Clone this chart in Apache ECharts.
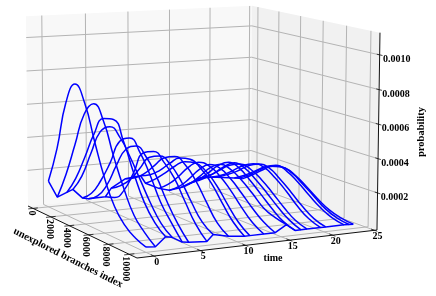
<!DOCTYPE html>
<html><head><meta charset="utf-8">
<style>html,body{margin:0;padding:0;background:#fff}#c{width:436px;height:296px}</style>
<script src="https://cdn.jsdelivr.net/npm/echarts@6/dist/echarts.min.js"></script>
</head><body><div id="c"></div>
<script>
// ---- data ----
const timeTicks = [0, 5, 10, 15, 20, 25];
const indexTicks = [0, 2000, 4000, 6000, 8000, 10000];
const probTicks = [0.0002, 0.0004, 0.0006, 0.0008, 0.0010];
const probLabels = ['0.0002', '0.0004', '0.0006', '0.0008', '0.0010'];
const indexSamples = [0, 1000, 2000, 3000, 4000, 5000, 6000, 7000, 8000, 9000, 10000];
const curveTimes = [0, 1, 2.1, 2.8, 3.9, 4.6, 6.6, 7.3, 9, 10.8, 11.4, 13, 14.3, 15.6, 16.6, 17.3, 18, 19.6, 20.2, 22.4, 23, 23.5];
// probability in units of 1e-6, one row per time, one column per indexSamples entry
const curve00 = [140, 360, 650, 780, 690, 490, 300, 160, 80, 35, 12];
const curve01 = [37, 200, 400, 600, 680, 600, 420, 260, 130, 60, 8];
const curve02 = [60, 170, 320, 480, 590, 605, 500, 340, 200, 110, 57];
const curve03 = [75, 180, 340, 490, 540, 500, 410, 300, 190, 100, 50];
const curve04 = [17, 70, 170, 300, 450, 490, 430, 320, 190, 100, 17];
const curve05 = [8, 50, 140, 280, 400, 440, 400, 310, 190, 90, 12];
const curve06 = [10, 30, 100, 230, 370, 400, 360, 290, 180, 75, 5];
const curve07 = [60, 100, 160, 250, 340, 370, 345, 275, 175, 85, 40];
const curve08 = [110, 140, 190, 260, 330, 360, 335, 265, 165, 70, 20];
const curve09 = [120, 150, 200, 265, 320, 335, 305, 240, 150, 65, 10];
const curve10 = [70, 120, 180, 245, 295, 310, 285, 225, 140, 60, 10];
const curve11 = [30, 80, 150, 230, 285, 285, 250, 190, 115, 50, 10];
const curve12 = [12, 60, 130, 210, 265, 265, 225, 165, 100, 45, 10];
const curve13 = [20, 70, 140, 215, 260, 250, 210, 155, 95, 65, 50];
const curve14 = [40, 90, 155, 225, 268, 255, 205, 145, 85, 35, 10];
const curve15 = [50, 95, 150, 215, 262, 250, 205, 150, 90, 40, 10];
const curve16 = [70, 110, 165, 220, 250, 240, 200, 145, 85, 35, 10];
const curve17 = [70, 105, 155, 210, 245, 245, 205, 150, 85, 35, 10];
const curve18 = [65, 105, 150, 205, 240, 240, 195, 140, 80, 33, 10];
const curve19 = [50, 90, 140, 190, 222, 208, 165, 110, 60, 25, 10];
const curve20 = [45, 90, 145, 190, 210, 195, 150, 100, 50, 20, 9];
const curve21 = [40, 90, 145, 190, 200, 175, 130, 80, 40, 18, 8];
const curves = [curve00, curve01, curve02, curve03, curve04, curve05, curve06, curve07, curve08, curve09, curve10,
  curve11, curve12, curve13, curve14, curve15, curve16, curve17, curve18, curve19, curve20, curve21];

// ---- axis limits and camera ----
const tLim = [-1.78, 25.3], iLim = [-581, 10723], pLim = [-0.0000174, 0.001127];
const cam = { a: 239.6, b: 94.53, c: 28, p: -2.36, d: -9.82, e: 24.76, f: 206, q: -190, g: 0.0662, h: -0.1056, i: -0.0138 };
function proj(u, v, w) {
  const n = cam.g * u + cam.h * v + cam.i * w + 1;
  return [(cam.a * u + cam.b * v + cam.p * w + cam.c) / n, (cam.d * u + cam.e * v + cam.q * w + cam.f) / n];
}
const U = t => (t - tLim[0]) / (tLim[1] - tLim[0]);
const V = i => (i - iLim[0]) / (iLim[1] - iLim[0]);
const W = p => (p - pLim[0]) / (pLim[1] - pLim[0]);
const P = (t, i, p) => proj(U(t), V(i), W(p));

const GRID = '#b4b4b4', BLUE = '#0000ff', INK = '#111';
const FONT = '"Liberation Serif","Times New Roman",serif';

// ---- panes ----
const panes = [
  { fill: '#f8f8f8', pts: [[0, 0, 0], [1, 0, 0], [1, 0, 1], [0, 0, 1]] },
  { fill: '#f1f1f1', pts: [[1, 0, 0], [1, 1, 0], [1, 1, 1], [1, 0, 1]] },
  { fill: '#f4f4f4', pts: [[0, 0, 0], [1, 0, 0], [1, 1, 0], [0, 1, 0]] }
];
const paneSeries = {
  type: 'custom', coordinateSystem: 'cartesian2d', silent: true, z: 1, clip: false,
  data: panes.map((_, k) => [k]),
  renderItem(params, api) {
    const pn = panes[api.value(0)];
    return { type: 'polygon', shape: { points: pn.pts.map(q => api.coord(proj(q[0], q[1], q[2]))) }, style: { fill: pn.fill } };
  }
};

// ---- straight helper lines ----
function seg(points, color, width, z) {
  return { type: 'line', data: points, showSymbol: false, symbol: 'none', silent: true, clip: false, z: z,
    lineStyle: { color: color, width: width }, animation: false };
}
const series = [paneSeries];
timeTicks.forEach(t => {
  const u = U(t);
  series.push(seg([proj(u, 1, 0), proj(u, 0, 0), proj(u, 0, 1)], GRID, 1, 2));
  series.push(seg([proj(u, 0.975, 0), proj(u, 1.02, 0)], INK, 0.8, 3));
});
indexTicks.forEach(i => {
  const v = V(i);
  series.push(seg([proj(0, v, 0), proj(1, v, 0), proj(1, v, 1)], GRID, 1, 2));
  series.push(seg([proj(0.02, v, 0), proj(-0.02, v, 0)], INK, 0.8, 3));
});
probTicks.forEach(p => {
  const w = W(p);
  series.push(seg([proj(0, 0, w), proj(1, 0, w), proj(1, 1, w)], GRID, 1, 2));
  series.push(seg([proj(1, 0.98, w), proj(1, 1.02, w)], INK, 0.8, 3));
});
series.push(seg([proj(0, 0, 0), proj(0, 1, 0), proj(1, 1, 0), proj(1, 1, 1)], INK, 1, 3));

// ---- the curves ----
const backEdge = [], frontEdge = [];
curves.forEach((row, k) => {
  const t = curveTimes[k];
  const pts = row.map((val, j) => P(t, indexSamples[j], val * 1e-6));
  backEdge.push(pts[0]);
  frontEdge.push(pts[pts.length - 1]);
  series.push({ type: 'line', name: 't=' + t, data: pts, smooth: 0.5, showSymbol: false, symbol: 'none', silent: true, clip: false,
    z: 5, lineStyle: { color: BLUE, width: 1.5 }, animation: false });
});
series.push(seg(backEdge, BLUE, 1.5, 5));
series.push(seg(frontEdge, BLUE, 1.5, 5));

// ---- text ----
const labels = [];
timeTicks.forEach(t => { const q = P(t, iLim[1], pLim[0]); labels.push({ s: String(t), x: q[0] + 3, y: q[1] + 6, r: 0, f: 10 }); });
indexTicks.forEach(i => {
  const q = P(tLim[0], i, pLim[0]); const n = String(i).length * 5;
  labels.push({ s: String(i), x: q[0] - 1 - 3 * V(i), y: q[1] + 2 + n / 2, r: -Math.PI / 2, f: 10 });
});
probTicks.forEach((p, k) => { const q = P(tLim[1], iLim[1], p); labels.push({ s: probLabels[k], x: q[0] + 17, y: q[1] + 4.5, r: 0, f: 10 }); });
labels.push({ s: 'time', x: 273, y: 258, r: 0, f: 10 });
labels.push({ s: 'probability', x: 421, y: 132, r: Math.PI / 2, f: 10.5 });
labels.push({ s: 'unexplored branches index', x: 68, y: 258, r: -26.8 * Math.PI / 180, f: 10.5 });
series.push({
  type: 'custom', coordinateSystem: 'cartesian2d', silent: true, z: 6, clip: false,
  data: labels.map((_, k) => [k]),
  renderItem(params, api) {
    const L = labels[api.value(0)];
    const c = api.coord([L.x, L.y]);
    return { type: 'text', x: c[0], y: c[1], rotation: L.r,
      style: { text: L.s, fill: '#000', font: 'bold ' + L.f + 'px ' + FONT, align: 'center', verticalAlign: 'middle' } };
  }
});

const chart = echarts.init(document.getElementById('c'), null, { renderer: 'canvas' });
chart.setOption({
  animation: false, backgroundColor: '#fff',
  grid: { left: 0, right: 0, top: 0, bottom: 0 },
  xAxis: { type: 'value', min: 0, max: 436, show: false },
  yAxis: { type: 'value', min: 0, max: 296, inverse: true, show: false },
  series: series
});
</script></body></html>
